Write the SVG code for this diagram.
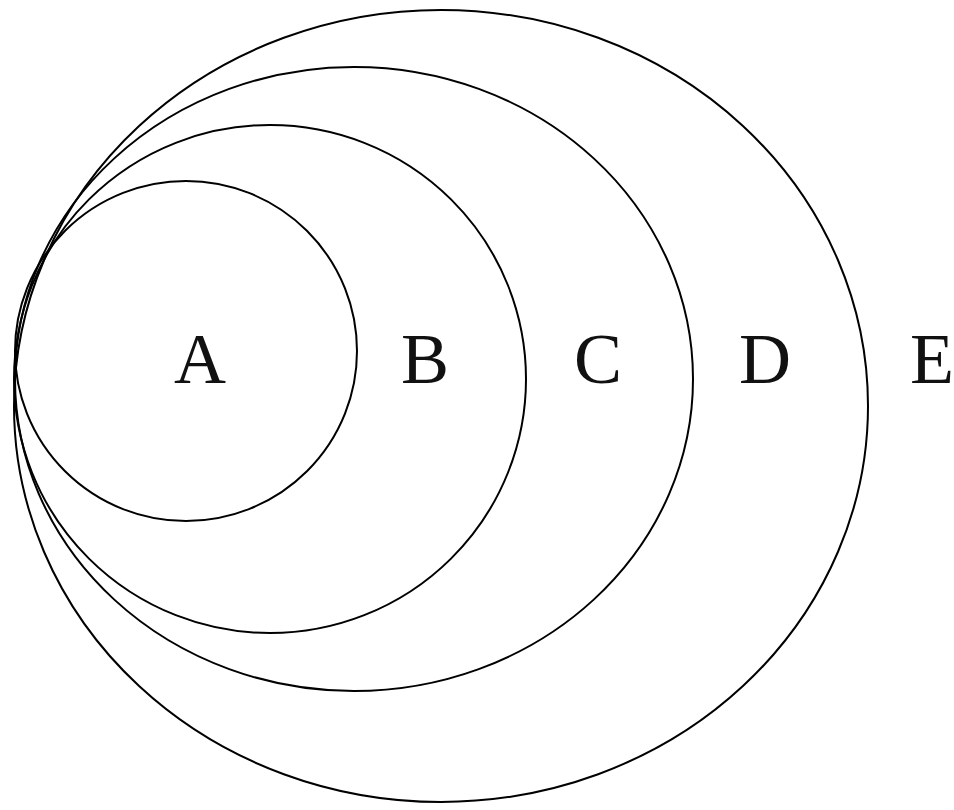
<svg xmlns="http://www.w3.org/2000/svg" width="954" height="810" viewBox="0 0 954 810">
<style>
.ring{fill:none;stroke:#000;stroke-width:2}
.lbl{font-family:"Liberation Serif","Times New Roman",serif;font-size:72px;fill:#111;text-anchor:middle}
</style>
<rect width="954" height="810" fill="#fff"/>
<g id="ring-A"><ellipse class="ring" cx="186" cy="351" rx="171" ry="170"/></g>
<g id="ring-B"><ellipse class="ring" cx="270" cy="379" rx="256" ry="254"/></g>
<g id="ring-C"><ellipse class="ring" cx="354" cy="379" rx="339" ry="312"/></g>
<g id="ring-D"><ellipse class="ring" cx="441" cy="406" rx="427" ry="396"/></g>
<g id="labels">
<text class="lbl" x="200" y="383">A</text>
<text class="lbl" x="425" y="383">B</text>
<text class="lbl" x="598" y="383">C</text>
<text class="lbl" x="765" y="383">D</text>
<text class="lbl" x="932" y="383">E</text>
</g>
</svg>
